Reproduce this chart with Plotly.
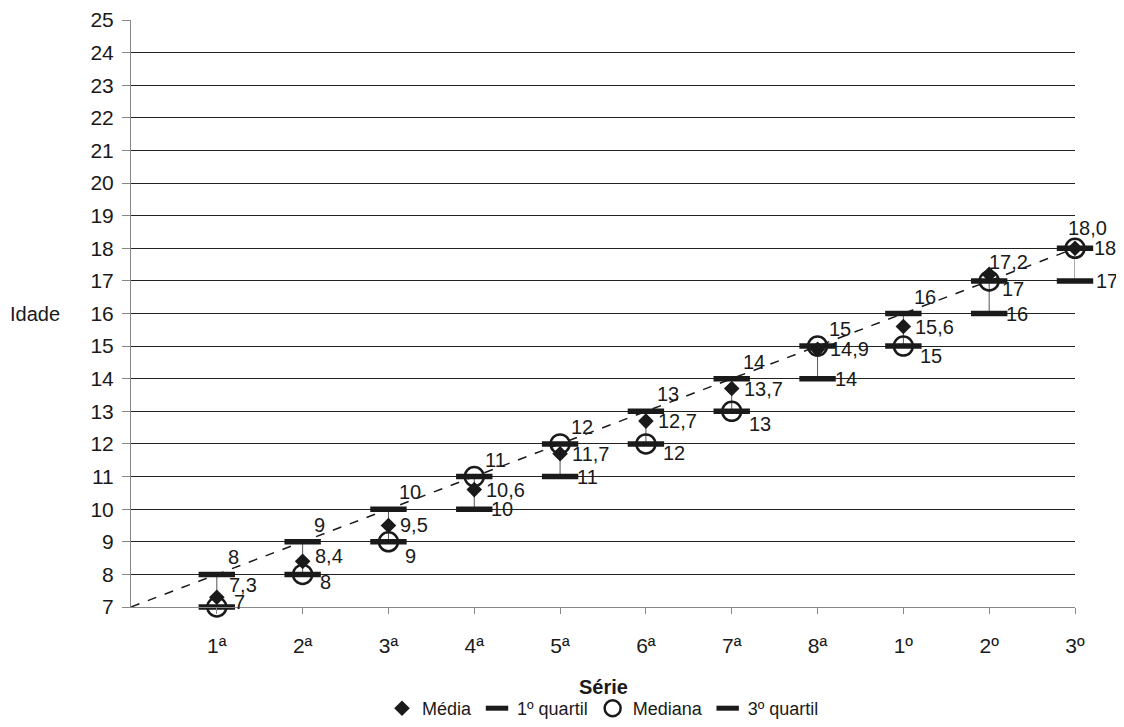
import plotly.graph_objects as go

# ---- data ----
series_labels = ["1ª", "2ª", "3ª", "4ª", "5ª", "6ª", "7ª", "8ª", "1º", "2º", "3º"]
media = [7.3, 8.4, 9.5, 10.6, 11.7, 12.7, 13.7, 14.9, 15.6, 17.2, 18.0]
quartil1 = [7, 8, 9, 10, 11, 12, 13, 14, 15, 16, 17]
mediana = [7, 8, 9, 11, 12, 12, 13, 15, 15, 17, 18]
quartil3 = [8, 9, 10, 11, 12, 13, 14, 15, 16, 17, 18]
trend_x = [0, 11]
trend_y = [7, 18]
y_ticks = list(range(7, 26))

xpos = list(range(1, len(series_labels) + 1))
FONT = "Liberation Sans, Arial, sans-serif"
INK = "#1a1a1a"

fig = go.Figure()

# high-low lines (1º quartil to 3º quartil)
hl_x, hl_y = [], []
for x, lo, hi in zip(xpos, quartil1, quartil3):
    hl_x += [x, x, None]
    hl_y += [lo, hi, None]
fig.add_trace(go.Scatter(x=hl_x, y=hl_y, mode="lines", line=dict(color="#555555", width=1),
                         showlegend=False, hoverinfo="skip", cliponaxis=False))

# dashed trend line
fig.add_trace(go.Scatter(x=trend_x, y=trend_y, mode="lines", line=dict(color=INK, width=1.5, dash="dash"),
                         showlegend=False, hoverinfo="skip", cliponaxis=False))

fig.add_trace(go.Scatter(x=xpos, y=media, mode="markers", name="Média",
                         marker=dict(symbol="diamond", size=12, color=INK), cliponaxis=False))
fig.add_trace(go.Scatter(x=xpos, y=quartil1, mode="markers", name="1º quartil",
                         marker=dict(symbol="line-ew", size=26, color=INK, line=dict(color=INK, width=5.5)),
                         cliponaxis=False))
fig.add_trace(go.Scatter(x=xpos, y=mediana, mode="markers", name="Mediana",
                         marker=dict(symbol="circle-open", size=19, color=INK, line=dict(color=INK, width=2.5)),
                         cliponaxis=False))
fig.add_trace(go.Scatter(x=xpos, y=quartil3, mode="markers", name="3º quartil",
                         marker=dict(symbol="line-ew", size=26, color=INK, line=dict(color=INK, width=5.5)),
                         cliponaxis=False))

# ---- data labels ----
def fmt_dec(v):
    return f"{v:.1f}".replace(".", ",")

label_style = {
    "media": dict(xanchor="left", xshift=10, yshift=0),
    "q1": dict(xanchor="left", xshift=15, yshift=0),
    "q3": dict(xanchor="left", xshift=9, yshift=17),
}
# vertical nudges of individual labels (pixels), as in the original chart
q1_nudge = [5, -8, -14, 0, 0, -9, -13, 0, -10, 0, 0]
media_nudge = [12, 5, 0, 0, 0, 0, 0, 0, 0, 0, 0]
overrides = {
    ("media", 9): dict(xanchor="left", xshift=-2, yshift=12),
    ("q3", 9): dict(xanchor="left", xshift=11, yshift=-8),
    ("media", 10): dict(xanchor="center", xshift=12, yshift=20),
    ("q3", 10): dict(xanchor="left", xshift=17, yshift=0),
    ("q1", 10): dict(xanchor="left", xshift=19, yshift=0),
}
annotations = []
for key, vals, fmt, nudge in [("media", media, fmt_dec, media_nudge),
                              ("q1", quartil1, str, q1_nudge),
                              ("q3", quartil3, str, [0] * len(quartil3))]:
    for i, (x, v) in enumerate(zip(xpos, vals)):
        st = dict(overrides.get((key, i), label_style[key]))
        if (key, i) not in overrides:
            st["yshift"] = st["yshift"] + nudge[i]
        annotations.append(dict(x=x, y=v, xref="x", yref="y", text=fmt(v), showarrow=False,
                                font=dict(family=FONT, size=20, color=INK), **st))

# axis titles
annotations.append(dict(x=0, y=16, xref="paper", yref="y", text="Idade", showarrow=False,
                        xanchor="right", xshift=-69, font=dict(family=FONT, size=20, color=INK)))
annotations.append(dict(x=0.5, y=0, xref="paper", yref="paper", text="<b>Série</b>", showarrow=False,
                        xanchor="center", yanchor="middle", yshift=-80,
                        font=dict(family=FONT, size=20, color=INK)))

fig.update_layout(
    width=1116, height=719,
    margin=dict(l=123, r=49, t=12, b=120, autoexpand=False),
    plot_bgcolor="white", paper_bgcolor="white",
    font=dict(family=FONT, size=20, color=INK),
    annotations=annotations,
    showlegend=True,
    legend=dict(orientation="h", x=0.5, xanchor="center", xref="paper",
                y=0, yanchor="bottom", yref="container",
                font=dict(family=FONT, size=18, color=INK), itemwidth=30, tracegroupgap=0),
    xaxis=dict(range=[0, 11], tickmode="array", tickvals=xpos, ticktext=series_labels,
               automargin=False,
               showgrid=False, zeroline=False, showline=True, linecolor="#888888", linewidth=1,
               ticks="outside", ticklen=6, tickcolor="#888888", ticklabelstandoff=14,
               tickfont=dict(family=FONT, size=21, color=INK)),
    yaxis=dict(range=[7, 25], tickmode="array", tickvals=y_ticks, automargin=False,
               showgrid=True, gridcolor="#222222", gridwidth=1, zeroline=False,
               showline=True, linecolor="#888888", linewidth=1,
               ticks="outside", ticklen=8, tickcolor="#888888", ticklabelstandoff=4,
               tickfont=dict(family=FONT, size=21, color=INK)),
)

fig.write_html("out.html")
